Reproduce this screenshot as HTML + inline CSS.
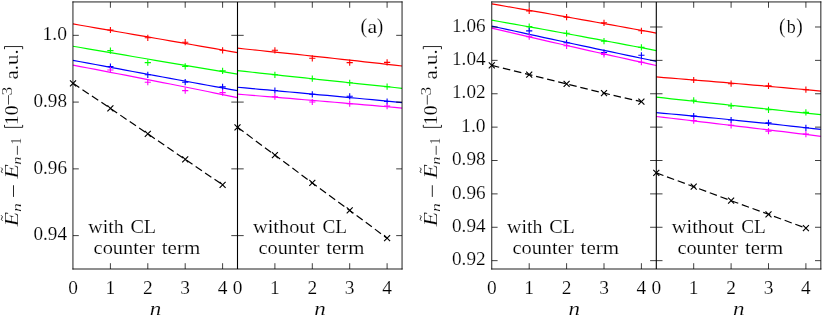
<!DOCTYPE html>
<html><head><meta charset="utf-8"><title>chart</title>
<style>html,body{margin:0;padding:0;background:#fff;}svg{display:block;will-change:transform;}</style></head>
<body>
<svg width="822" height="315" viewBox="0 0 822 315">
<rect x="0" y="0" width="822" height="315" fill="#ffffff"/>
<polyline points="73.00,23.93 80.48,25.23 87.95,26.52 95.43,27.82 102.91,29.12 110.39,30.42 117.86,31.72 125.34,33.02 132.82,34.32 140.30,35.62 147.77,36.92 155.25,38.23 162.73,39.53 170.20,40.84 177.68,42.15 185.16,43.46 192.64,44.76 200.11,46.07 207.59,47.38 215.07,48.70 222.55,50.01 230.02,51.32 237.50,52.64" fill="none" stroke="#ff0000" stroke-width="1.20"/>
<path d="M107.30,30.00H113.50M110.40,26.90V33.10M144.70,37.80H150.90M147.80,34.70V40.90M182.10,42.20H188.30M185.20,39.10V45.30M219.50,50.30H225.70M222.60,47.20V53.40" fill="none" stroke="#ff0000" stroke-width="1.1"/>
<polyline points="73.00,46.23 80.48,47.51 87.95,48.80 95.43,50.08 102.91,51.37 110.39,52.65 117.86,53.93 125.34,55.21 132.82,56.48 140.30,57.76 147.77,59.03 155.25,60.30 162.73,61.57 170.20,62.84 177.68,64.11 185.16,65.38 192.64,66.64 200.11,67.91 207.59,69.17 215.07,70.43 222.55,71.69 230.02,72.95 237.50,74.20" fill="none" stroke="#00ff00" stroke-width="1.20"/>
<path d="M107.30,50.60H113.50M110.40,47.50V53.70M144.70,62.60H150.90M147.80,59.50V65.70M182.10,66.40H188.30M185.20,63.30V69.50M219.50,70.90H225.70M222.60,67.80V74.00" fill="none" stroke="#00ff00" stroke-width="1.1"/>
<polyline points="73.00,60.33 80.48,61.73 87.95,63.13 95.43,64.53 102.91,65.92 110.39,67.32 117.86,68.71 125.34,70.10 132.82,71.49 140.30,72.87 147.77,74.26 155.25,75.64 162.73,77.01 170.20,78.39 177.68,79.76 185.16,81.14 192.64,82.51 200.11,83.87 207.59,85.24 215.07,86.60 222.55,87.96 230.02,89.32 237.50,90.68" fill="none" stroke="#0000ff" stroke-width="1.20"/>
<path d="M107.30,66.50H113.50M110.40,63.40V69.60M144.70,74.80H150.90M147.80,71.70V77.90M182.10,82.20H188.30M185.20,79.10V85.30M219.50,86.90H225.70M222.60,83.80V90.00" fill="none" stroke="#0000ff" stroke-width="1.1"/>
<polyline points="73.00,65.12 80.48,66.54 87.95,67.97 95.43,69.40 102.91,70.84 110.39,72.29 117.86,73.74 125.34,75.19 132.82,76.65 140.30,78.11 147.77,79.58 155.25,81.06 162.73,82.54 170.20,84.02 177.68,85.51 185.16,87.01 192.64,88.51 200.11,90.01 207.59,91.52 215.07,93.04 222.55,94.56 230.02,96.09 237.50,97.62" fill="none" stroke="#ff00ff" stroke-width="1.20"/>
<path d="M107.30,70.00H113.50M110.40,66.90V73.10M144.70,82.20H150.90M147.80,79.10V85.30M182.10,90.60H188.30M185.20,87.50V93.70M219.50,92.60H225.70M222.60,89.50V95.70" fill="none" stroke="#ff00ff" stroke-width="1.1"/>
<polyline points="73.00,83.30 110.40,108.40 147.80,133.85 185.20,159.40 222.60,184.80" fill="none" stroke="#000" stroke-width="1.2" stroke-dasharray="7.6 3.8"/>
<path d="M70.00,80.30L76.00,86.30M70.00,86.30L76.00,80.30M107.40,105.40L113.40,111.40M107.40,111.40L113.40,105.40M144.80,130.85L150.80,136.85M144.80,136.85L150.80,130.85M182.20,156.40L188.20,162.40M182.20,162.40L188.20,156.40M219.60,181.80L225.60,187.80M219.60,187.80L225.60,181.80" fill="none" stroke="#000" stroke-width="1.15"/>
<polyline points="237.50,48.22 244.98,48.98 252.45,49.75 259.93,50.52 267.41,51.30 274.89,52.08 282.36,52.87 289.84,53.66 297.32,54.45 304.80,55.25 312.27,56.05 319.75,56.85 327.23,57.67 334.70,58.48 342.18,59.30 349.66,60.12 357.14,60.95 364.61,61.78 372.09,62.62 379.57,63.46 387.05,64.30 394.52,65.15 402.00,66.01" fill="none" stroke="#ff0000" stroke-width="1.20"/>
<path d="M271.80,50.30H278.00M274.90,47.20V53.40M309.20,58.30H315.40M312.30,55.20V61.40M346.60,62.60H352.80M349.70,59.50V65.70M384.00,62.40H390.20M387.10,59.30V65.50" fill="none" stroke="#ff0000" stroke-width="1.1"/>
<polyline points="237.50,70.63 244.98,71.45 252.45,72.27 259.93,73.09 267.41,73.91 274.89,74.72 282.36,75.54 289.84,76.35 297.32,77.16 304.80,77.96 312.27,78.77 319.75,79.57 327.23,80.37 334.70,81.17 342.18,81.97 349.66,82.77 357.14,83.56 364.61,84.35 372.09,85.14 379.57,85.93 387.05,86.72 394.52,87.50 402.00,88.28" fill="none" stroke="#00ff00" stroke-width="1.20"/>
<path d="M271.80,74.80H278.00M274.90,71.70V77.90M309.20,78.70H315.40M312.30,75.60V81.80M346.60,82.80H352.80M349.70,79.70V85.90M384.00,86.70H390.20M387.10,83.60V89.80" fill="none" stroke="#00ff00" stroke-width="1.1"/>
<polyline points="237.50,87.25 244.98,87.93 252.45,88.60 259.93,89.28 267.41,89.96 274.89,90.64 282.36,91.33 289.84,92.01 297.32,92.70 304.80,93.39 312.27,94.08 319.75,94.78 327.23,95.47 334.70,96.17 342.18,96.87 349.66,97.57 357.14,98.27 364.61,98.98 372.09,99.69 379.57,100.40 387.05,101.11 394.52,101.82 402.00,102.54" fill="none" stroke="#0000ff" stroke-width="1.20"/>
<path d="M271.80,90.50H278.00M274.90,87.40V93.60M309.20,94.30H315.40M312.30,91.20V97.40M346.60,96.30H352.80M349.70,93.20V99.40M384.00,101.50H390.20M387.10,98.40V104.60" fill="none" stroke="#0000ff" stroke-width="1.1"/>
<polyline points="237.50,94.13 244.98,94.74 252.45,95.36 259.93,95.98 267.41,96.60 274.89,97.22 282.36,97.84 289.84,98.47 297.32,99.10 304.80,99.73 312.27,100.36 319.75,100.99 327.23,101.63 334.70,102.26 342.18,102.90 349.66,103.54 357.14,104.18 364.61,104.83 372.09,105.47 379.57,106.12 387.05,106.77 394.52,107.42 402.00,108.07" fill="none" stroke="#ff00ff" stroke-width="1.20"/>
<path d="M271.80,96.70H278.00M274.90,93.60V99.80M309.20,102.00H315.40M312.30,98.90V105.10M346.60,103.70H352.80M349.70,100.60V106.80M384.00,106.10H390.20M387.10,103.00V109.20" fill="none" stroke="#ff00ff" stroke-width="1.1"/>
<polyline points="237.50,127.30 274.90,155.10 312.30,182.90 349.70,210.40 387.10,238.20" fill="none" stroke="#000" stroke-width="1.2" stroke-dasharray="7.6 3.8"/>
<path d="M234.50,124.30L240.50,130.30M234.50,130.30L240.50,124.30M271.90,152.10L277.90,158.10M271.90,158.10L277.90,152.10M309.30,179.90L315.30,185.90M309.30,185.90L315.30,179.90M346.70,207.40L352.70,213.40M346.70,213.40L352.70,207.40M384.10,235.20L390.10,241.20M384.10,241.20L390.10,235.20" fill="none" stroke="#000" stroke-width="1.15"/>
<polyline points="491.80,3.92 499.28,5.19 506.75,6.48 514.23,7.77 521.71,9.06 529.19,10.36 536.66,11.66 544.14,12.96 551.62,14.27 559.10,15.59 566.57,16.91 574.05,18.23 581.53,19.56 589.00,20.89 596.48,22.23 603.96,23.57 611.44,24.92 618.91,26.27 626.39,27.62 633.87,28.98 641.35,30.34 648.82,31.71 656.30,33.08" fill="none" stroke="#ff0000" stroke-width="1.20"/>
<path d="M526.10,10.90H532.30M529.20,7.80V14.00M563.50,17.20H569.70M566.60,14.10V20.30M600.90,22.80H607.10M604.00,19.70V25.90M638.30,30.80H644.50M641.40,27.70V33.90" fill="none" stroke="#ff0000" stroke-width="1.1"/>
<polyline points="491.80,20.20 499.28,21.51 506.75,22.83 514.23,24.16 521.71,25.49 529.19,26.83 536.66,28.18 544.14,29.53 551.62,30.89 559.10,32.26 566.57,33.63 574.05,35.01 581.53,36.40 589.00,37.79 596.48,39.19 603.96,40.59 611.44,42.00 618.91,43.42 626.39,44.84 633.87,46.27 641.35,47.71 648.82,49.16 656.30,50.61" fill="none" stroke="#00ff00" stroke-width="1.20"/>
<path d="M526.10,26.60H532.30M529.20,23.50V29.70M563.50,33.30H569.70M566.60,30.20V36.40M600.90,41.10H607.10M604.00,38.00V44.20M638.30,47.40H644.50M641.40,44.30V50.50" fill="none" stroke="#00ff00" stroke-width="1.1"/>
<polyline points="491.80,26.06 499.28,27.72 506.75,29.37 514.23,31.01 521.71,32.65 529.19,34.29 536.66,35.92 544.14,37.55 551.62,39.17 559.10,40.78 566.57,42.39 574.05,44.00 581.53,45.60 589.00,47.19 596.48,48.79 603.96,50.37 611.44,51.95 618.91,53.53 626.39,55.10 633.87,56.66 641.35,58.23 648.82,59.78 656.30,61.33" fill="none" stroke="#0000ff" stroke-width="1.20"/>
<path d="M526.10,30.90H532.30M529.20,27.80V34.00M563.50,42.80H569.70M566.60,39.70V45.90M600.90,52.50H607.10M604.00,49.40V55.60M638.30,55.30H644.50M641.40,52.20V58.40" fill="none" stroke="#0000ff" stroke-width="1.1"/>
<polyline points="491.80,28.17 499.28,29.93 506.75,31.68 514.23,33.43 521.71,35.17 529.19,36.91 536.66,38.64 544.14,40.36 551.62,42.08 559.10,43.79 566.57,45.50 574.05,47.20 581.53,48.89 589.00,50.57 596.48,52.25 603.96,53.93 611.44,55.60 618.91,57.26 626.39,58.91 633.87,60.56 641.35,62.20 648.82,63.84 656.30,65.47" fill="none" stroke="#ff00ff" stroke-width="1.20"/>
<path d="M526.10,36.70H532.30M529.20,33.60V39.80M563.50,45.80H569.70M566.60,42.70V48.90M600.90,54.40H607.10M604.00,51.30V57.50M638.30,62.20H644.50M641.40,59.10V65.30" fill="none" stroke="#ff00ff" stroke-width="1.1"/>
<polyline points="491.80,65.40 529.20,74.60 566.60,83.90 604.00,93.20 641.40,101.70" fill="none" stroke="#000" stroke-width="1.2" stroke-dasharray="7.6 3.8"/>
<path d="M488.80,62.40L494.80,68.40M488.80,68.40L494.80,62.40M526.20,71.60L532.20,77.60M526.20,77.60L532.20,71.60M563.60,80.90L569.60,86.90M563.60,86.90L569.60,80.90M601.00,90.20L607.00,96.20M601.00,96.20L607.00,90.20M638.40,98.70L644.40,104.70M638.40,104.70L644.40,98.70" fill="none" stroke="#000" stroke-width="1.15"/>
<polyline points="656.30,76.95 663.78,77.54 671.25,78.15 678.73,78.75 686.21,79.36 693.69,79.98 701.16,80.59 708.64,81.22 716.12,81.84 723.60,82.47 731.07,83.11 738.55,83.75 746.03,84.39 753.50,85.03 760.98,85.69 768.46,86.34 775.94,87.00 783.41,87.66 790.89,88.33 798.37,89.00 805.85,89.68 813.32,90.36 820.80,91.04" fill="none" stroke="#ff0000" stroke-width="1.20"/>
<path d="M690.60,80.00H696.80M693.70,76.90V83.10M728.00,83.70H734.20M731.10,80.60V86.80M765.40,85.90H771.60M768.50,82.80V89.00M802.80,89.70H809.00M805.90,86.60V92.80" fill="none" stroke="#ff0000" stroke-width="1.1"/>
<polyline points="656.30,97.15 663.78,97.97 671.25,98.79 678.73,99.60 686.21,100.42 693.69,101.23 701.16,102.04 708.64,102.84 716.12,103.64 723.60,104.44 731.07,105.24 738.55,106.04 746.03,106.83 753.50,107.62 760.98,108.40 768.46,109.19 775.94,109.97 783.41,110.75 790.89,111.53 798.37,112.30 805.85,113.07 813.32,113.84 820.80,114.61" fill="none" stroke="#00ff00" stroke-width="1.20"/>
<path d="M690.60,100.30H696.80M693.70,97.20V103.40M728.00,105.90H734.20M731.10,102.80V109.00M765.40,109.80H771.60M768.50,106.70V112.90M802.80,112.40H809.00M805.90,109.30V115.50" fill="none" stroke="#00ff00" stroke-width="1.1"/>
<polyline points="656.30,112.61 663.78,113.29 671.25,113.98 678.73,114.67 686.21,115.38 693.69,116.09 701.16,116.81 708.64,117.54 716.12,118.27 723.60,119.02 731.07,119.77 738.55,120.53 746.03,121.30 753.50,122.08 760.98,122.86 768.46,123.65 775.94,124.45 783.41,125.26 790.89,126.08 798.37,126.90 805.85,127.74 813.32,128.58 820.80,129.43" fill="none" stroke="#0000ff" stroke-width="1.20"/>
<path d="M690.60,116.10H696.80M693.70,113.00V119.20M728.00,120.00H734.20M731.10,116.90V123.10M765.40,122.80H771.60M768.50,119.70V125.90M802.80,127.80H809.00M805.90,124.70V130.90" fill="none" stroke="#0000ff" stroke-width="1.1"/>
<polyline points="656.30,116.48 663.78,117.36 671.25,118.24 678.73,119.13 686.21,120.01 693.69,120.90 701.16,121.80 708.64,122.69 716.12,123.58 723.60,124.48 731.07,125.38 738.55,126.28 746.03,127.18 753.50,128.08 760.98,128.99 768.46,129.89 775.94,130.80 783.41,131.71 790.89,132.62 798.37,133.54 805.85,134.45 813.32,135.37 820.80,136.29" fill="none" stroke="#ff00ff" stroke-width="1.20"/>
<path d="M690.60,120.60H696.80M693.70,117.50V123.70M728.00,125.30H734.20M731.10,122.20V128.40M765.40,131.10H771.60M768.50,128.00V134.20M802.80,134.10H809.00M805.90,131.00V137.20" fill="none" stroke="#ff00ff" stroke-width="1.1"/>
<polyline points="656.30,172.90 693.70,186.70 731.10,200.70 768.50,214.30 805.90,228.20" fill="none" stroke="#000" stroke-width="1.2" stroke-dasharray="7.6 3.8"/>
<path d="M653.30,169.90L659.30,175.90M653.30,175.90L659.30,169.90M690.70,183.70L696.70,189.70M690.70,189.70L696.70,183.70M728.10,197.70L734.10,203.70M728.10,203.70L734.10,197.70M765.50,211.30L771.50,217.30M765.50,217.30L771.50,211.30M802.90,225.20L808.90,231.20M802.90,231.20L808.90,225.20" fill="none" stroke="#000" stroke-width="1.15"/>
<path d="M110.40,269.00V263.20M110.40,1.95V7.75M147.80,269.00V263.20M147.80,1.95V7.75M185.20,269.00V263.20M185.20,1.95V7.75M222.60,269.00V263.20M222.60,1.95V7.75M274.90,269.00V263.20M274.90,1.95V7.75M312.30,269.00V263.20M312.30,1.95V7.75M349.70,269.00V263.20M349.70,1.95V7.75M387.10,269.00V263.20M387.10,1.95V7.75M73.00,35.33H78.80M231.30,35.33H243.70M402.00,35.33H396.20M73.00,102.09H78.80M231.30,102.09H243.70M402.00,102.09H396.20M73.00,168.86H78.80M231.30,168.86H243.70M402.00,168.86H396.20M73.00,235.62H78.80M231.30,235.62H243.70M402.00,235.62H396.20" fill="none" stroke="#000" stroke-width="0.75"/>
<line x1="237.50" y1="1.95" x2="237.50" y2="269.00" stroke="#000" stroke-width="1.1"/>
<path d="M72.95,1.95H402.05M72.95,269.00H402.05M72.95,1.95V269.00M402.05,1.95V269.00" fill="none" stroke="#000" stroke-width="0.88" stroke-linecap="square"/>
<path d="M529.20,269.00V263.20M529.20,1.95V7.75M566.60,269.00V263.20M566.60,1.95V7.75M604.00,269.00V263.20M604.00,1.95V7.75M641.40,269.00V263.20M641.40,1.95V7.75M693.70,269.00V263.20M693.70,1.95V7.75M731.10,269.00V263.20M731.10,1.95V7.75M768.50,269.00V263.20M768.50,1.95V7.75M805.90,269.00V263.20M805.90,1.95V7.75M491.80,26.99H497.60M650.10,26.99H662.50M820.80,26.99H815.00M491.80,60.37H497.60M650.10,60.37H662.50M820.80,60.37H815.00M491.80,93.75H497.60M650.10,93.75H662.50M820.80,93.75H815.00M491.80,127.13H497.60M650.10,127.13H662.50M820.80,127.13H815.00M491.80,160.51H497.60M650.10,160.51H662.50M820.80,160.51H815.00M491.80,193.89H497.60M650.10,193.89H662.50M820.80,193.89H815.00M491.80,227.27H497.60M650.10,227.27H662.50M820.80,227.27H815.00M491.80,260.65H497.60M650.10,260.65H662.50M820.80,260.65H815.00" fill="none" stroke="#000" stroke-width="0.75"/>
<line x1="656.30" y1="1.95" x2="656.30" y2="269.00" stroke="#000" stroke-width="1.1"/>
<path d="M491.75,1.95H820.85M491.75,269.00H820.85M491.75,1.95V269.00M820.85,1.95V269.00" fill="none" stroke="#000" stroke-width="0.88" stroke-linecap="square"/>
<g font-family="&apos;Liberation Serif&apos;, serif" fill="#000" stroke="#fff" stroke-width="0.16">
<text x="42.50" y="40.03" font-size="18.60" textLength="24.50" lengthAdjust="spacingAndGlyphs" >1.0</text>
<text x="33.40" y="106.79" font-size="18.60" textLength="33.60" lengthAdjust="spacingAndGlyphs" >0.98</text>
<text x="33.40" y="173.56" font-size="18.60" textLength="33.60" lengthAdjust="spacingAndGlyphs" >0.96</text>
<text x="33.40" y="240.32" font-size="18.60" textLength="33.60" lengthAdjust="spacingAndGlyphs" >0.94</text>
<text x="452.00" y="31.69" font-size="18.60" textLength="33.60" lengthAdjust="spacingAndGlyphs" >1.06</text>
<text x="452.00" y="65.07" font-size="18.60" textLength="33.60" lengthAdjust="spacingAndGlyphs" >1.04</text>
<text x="452.00" y="98.45" font-size="18.60" textLength="33.60" lengthAdjust="spacingAndGlyphs" >1.02</text>
<text x="461.10" y="131.83" font-size="18.60" textLength="24.50" lengthAdjust="spacingAndGlyphs" >1.0</text>
<text x="452.00" y="165.21" font-size="18.60" textLength="33.60" lengthAdjust="spacingAndGlyphs" >0.98</text>
<text x="452.00" y="198.59" font-size="18.60" textLength="33.60" lengthAdjust="spacingAndGlyphs" >0.96</text>
<text x="452.00" y="231.97" font-size="18.60" textLength="33.60" lengthAdjust="spacingAndGlyphs" >0.94</text>
<text x="452.00" y="265.35" font-size="18.60" textLength="33.60" lengthAdjust="spacingAndGlyphs" >0.92</text>
<text x="68.15" y="294.10" font-size="18.60" textLength="9.70" lengthAdjust="spacingAndGlyphs" >0</text>
<text x="105.55" y="294.10" font-size="18.60" textLength="9.70" lengthAdjust="spacingAndGlyphs" >1</text>
<text x="142.95" y="294.10" font-size="18.60" textLength="9.70" lengthAdjust="spacingAndGlyphs" >2</text>
<text x="180.35" y="294.10" font-size="18.60" textLength="9.70" lengthAdjust="spacingAndGlyphs" >3</text>
<text x="217.75" y="294.10" font-size="18.60" textLength="9.70" lengthAdjust="spacingAndGlyphs" >4</text>
<text x="149.70" y="315.20" font-size="19.30" textLength="11.50" lengthAdjust="spacingAndGlyphs" font-style="italic" >n</text>
<text x="232.65" y="294.10" font-size="18.60" textLength="9.70" lengthAdjust="spacingAndGlyphs" >0</text>
<text x="270.05" y="294.10" font-size="18.60" textLength="9.70" lengthAdjust="spacingAndGlyphs" >1</text>
<text x="307.45" y="294.10" font-size="18.60" textLength="9.70" lengthAdjust="spacingAndGlyphs" >2</text>
<text x="344.85" y="294.10" font-size="18.60" textLength="9.70" lengthAdjust="spacingAndGlyphs" >3</text>
<text x="382.25" y="294.10" font-size="18.60" textLength="9.70" lengthAdjust="spacingAndGlyphs" >4</text>
<text x="314.20" y="315.20" font-size="19.30" textLength="11.50" lengthAdjust="spacingAndGlyphs" font-style="italic" >n</text>
<text x="88.30" y="233.20" font-size="19.20" textLength="35.40" lengthAdjust="spacingAndGlyphs" >with</text>
<text x="130.40" y="233.20" font-size="19.80" textLength="25.70" lengthAdjust="spacingAndGlyphs" >CL</text>
<text x="93.60" y="253.80" font-size="18.40" textLength="61.20" lengthAdjust="spacingAndGlyphs" >counter</text>
<text x="161.80" y="253.80" font-size="18.40" textLength="38.40" lengthAdjust="spacingAndGlyphs" >term</text>
<text x="253.00" y="233.20" font-size="19.20" textLength="62.20" lengthAdjust="spacingAndGlyphs" >without</text>
<text x="322.40" y="233.20" font-size="19.80" textLength="24.60" lengthAdjust="spacingAndGlyphs" >CL</text>
<text x="258.60" y="253.80" font-size="18.40" textLength="60.80" lengthAdjust="spacingAndGlyphs" >counter</text>
<text x="326.30" y="253.80" font-size="18.40" textLength="38.10" lengthAdjust="spacingAndGlyphs" >term</text>
<text x="486.95" y="294.10" font-size="18.60" textLength="9.70" lengthAdjust="spacingAndGlyphs" >0</text>
<text x="524.35" y="294.10" font-size="18.60" textLength="9.70" lengthAdjust="spacingAndGlyphs" >1</text>
<text x="561.75" y="294.10" font-size="18.60" textLength="9.70" lengthAdjust="spacingAndGlyphs" >2</text>
<text x="599.15" y="294.10" font-size="18.60" textLength="9.70" lengthAdjust="spacingAndGlyphs" >3</text>
<text x="636.55" y="294.10" font-size="18.60" textLength="9.70" lengthAdjust="spacingAndGlyphs" >4</text>
<text x="568.50" y="315.20" font-size="19.30" textLength="11.50" lengthAdjust="spacingAndGlyphs" font-style="italic" >n</text>
<text x="651.45" y="294.10" font-size="18.60" textLength="9.70" lengthAdjust="spacingAndGlyphs" >0</text>
<text x="688.85" y="294.10" font-size="18.60" textLength="9.70" lengthAdjust="spacingAndGlyphs" >1</text>
<text x="726.25" y="294.10" font-size="18.60" textLength="9.70" lengthAdjust="spacingAndGlyphs" >2</text>
<text x="763.65" y="294.10" font-size="18.60" textLength="9.70" lengthAdjust="spacingAndGlyphs" >3</text>
<text x="801.05" y="294.10" font-size="18.60" textLength="9.70" lengthAdjust="spacingAndGlyphs" >4</text>
<text x="733.00" y="315.20" font-size="19.30" textLength="11.50" lengthAdjust="spacingAndGlyphs" font-style="italic" >n</text>
<text x="507.10" y="233.20" font-size="19.20" textLength="35.40" lengthAdjust="spacingAndGlyphs" >with</text>
<text x="549.20" y="233.20" font-size="19.80" textLength="25.70" lengthAdjust="spacingAndGlyphs" >CL</text>
<text x="512.40" y="253.80" font-size="18.40" textLength="61.20" lengthAdjust="spacingAndGlyphs" >counter</text>
<text x="580.60" y="253.80" font-size="18.40" textLength="38.40" lengthAdjust="spacingAndGlyphs" >term</text>
<text x="671.80" y="233.20" font-size="19.20" textLength="62.20" lengthAdjust="spacingAndGlyphs" >without</text>
<text x="741.20" y="233.20" font-size="19.80" textLength="24.60" lengthAdjust="spacingAndGlyphs" >CL</text>
<text x="677.40" y="253.80" font-size="18.40" textLength="60.80" lengthAdjust="spacingAndGlyphs" >counter</text>
<text x="745.10" y="253.80" font-size="18.40" textLength="38.10" lengthAdjust="spacingAndGlyphs" >term</text>
<text x="360.60" y="33.20" font-size="21.40" textLength="6.60" lengthAdjust="spacingAndGlyphs" >(</text>
<text x="367.50" y="33.20" font-size="18.80" textLength="9.70" lengthAdjust="spacingAndGlyphs" >a</text>
<text x="377.10" y="33.20" font-size="21.40" textLength="6.20" lengthAdjust="spacingAndGlyphs" >)</text>
<text x="779.10" y="33.20" font-size="21.40" textLength="6.50" lengthAdjust="spacingAndGlyphs" >(</text>
<text x="786.80" y="33.20" font-size="19.40" textLength="9.00" lengthAdjust="spacingAndGlyphs" >b</text>
<text x="796.20" y="33.20" font-size="21.40" textLength="6.50" lengthAdjust="spacingAndGlyphs" >)</text>
<g transform="translate(18.10,226.5) rotate(-90)">
<text x="0.30" y="0.00" font-size="19.30" textLength="14.30" lengthAdjust="spacingAndGlyphs" font-style="italic" >E</text>
<text x="14.40" y="3.10" font-size="13.20" textLength="8.90" lengthAdjust="spacingAndGlyphs" font-style="italic" >n</text>
<text x="48.00" y="0.00" font-size="19.30" textLength="14.30" lengthAdjust="spacingAndGlyphs" font-style="italic" >E</text>
<text x="61.70" y="3.10" font-size="13.20" textLength="8.10" lengthAdjust="spacingAndGlyphs" font-style="italic" >n</text>
<text x="82.00" y="2.90" font-size="14.60" textLength="6.60" lengthAdjust="spacingAndGlyphs" >1</text>
<text x="101.50" y="0.00" font-size="18.60" textLength="19.50" lengthAdjust="spacingAndGlyphs" >10</text>
<text x="131.10" y="-6.30" font-size="14.60" textLength="8.70" lengthAdjust="spacingAndGlyphs" >3</text>
<text x="147.10" y="0.00" font-size="18.80" textLength="30.00" lengthAdjust="spacingAndGlyphs" >a.u.</text>
<path d="M29.6,-4.6H41.25" fill="none" stroke="#000" stroke-width="0.85"/>
<path d="M71.7,-0.7H80.65M121.9,-9.6H131.3" fill="none" stroke="#000" stroke-width="0.72"/>
<path d="M101.6,-13.6H99.15V4.55H101.6M177.3,-13.6H179.95V4.55H177.3" fill="none" stroke="#000" stroke-width="0.85"/>
<path d="M5.75,-15.6 q1.3,-2.0 2.7,-0.6 t2.8,-0.8" fill="none" stroke="#000" stroke-width="0.85"/>
<path d="M53.45,-15.6 q1.3,-2.0 2.7,-0.6 t2.8,-0.8" fill="none" stroke="#000" stroke-width="0.85"/>
</g>
<g transform="translate(436.90,226.5) rotate(-90)">
<text x="0.30" y="0.00" font-size="19.30" textLength="14.30" lengthAdjust="spacingAndGlyphs" font-style="italic" >E</text>
<text x="14.40" y="3.10" font-size="13.20" textLength="8.90" lengthAdjust="spacingAndGlyphs" font-style="italic" >n</text>
<text x="48.00" y="0.00" font-size="19.30" textLength="14.30" lengthAdjust="spacingAndGlyphs" font-style="italic" >E</text>
<text x="61.70" y="3.10" font-size="13.20" textLength="8.10" lengthAdjust="spacingAndGlyphs" font-style="italic" >n</text>
<text x="82.00" y="2.90" font-size="14.60" textLength="6.60" lengthAdjust="spacingAndGlyphs" >1</text>
<text x="101.50" y="0.00" font-size="18.60" textLength="19.50" lengthAdjust="spacingAndGlyphs" >10</text>
<text x="131.10" y="-6.30" font-size="14.60" textLength="8.70" lengthAdjust="spacingAndGlyphs" >3</text>
<text x="147.10" y="0.00" font-size="18.80" textLength="30.00" lengthAdjust="spacingAndGlyphs" >a.u.</text>
<path d="M29.6,-4.6H41.25" fill="none" stroke="#000" stroke-width="0.85"/>
<path d="M71.7,-0.7H80.65M121.9,-9.6H131.3" fill="none" stroke="#000" stroke-width="0.72"/>
<path d="M101.6,-13.6H99.15V4.55H101.6M177.3,-13.6H179.95V4.55H177.3" fill="none" stroke="#000" stroke-width="0.85"/>
<path d="M5.75,-15.6 q1.3,-2.0 2.7,-0.6 t2.8,-0.8" fill="none" stroke="#000" stroke-width="0.85"/>
<path d="M53.45,-15.6 q1.3,-2.0 2.7,-0.6 t2.8,-0.8" fill="none" stroke="#000" stroke-width="0.85"/>
</g>
</g>
</svg>
</body></html>
